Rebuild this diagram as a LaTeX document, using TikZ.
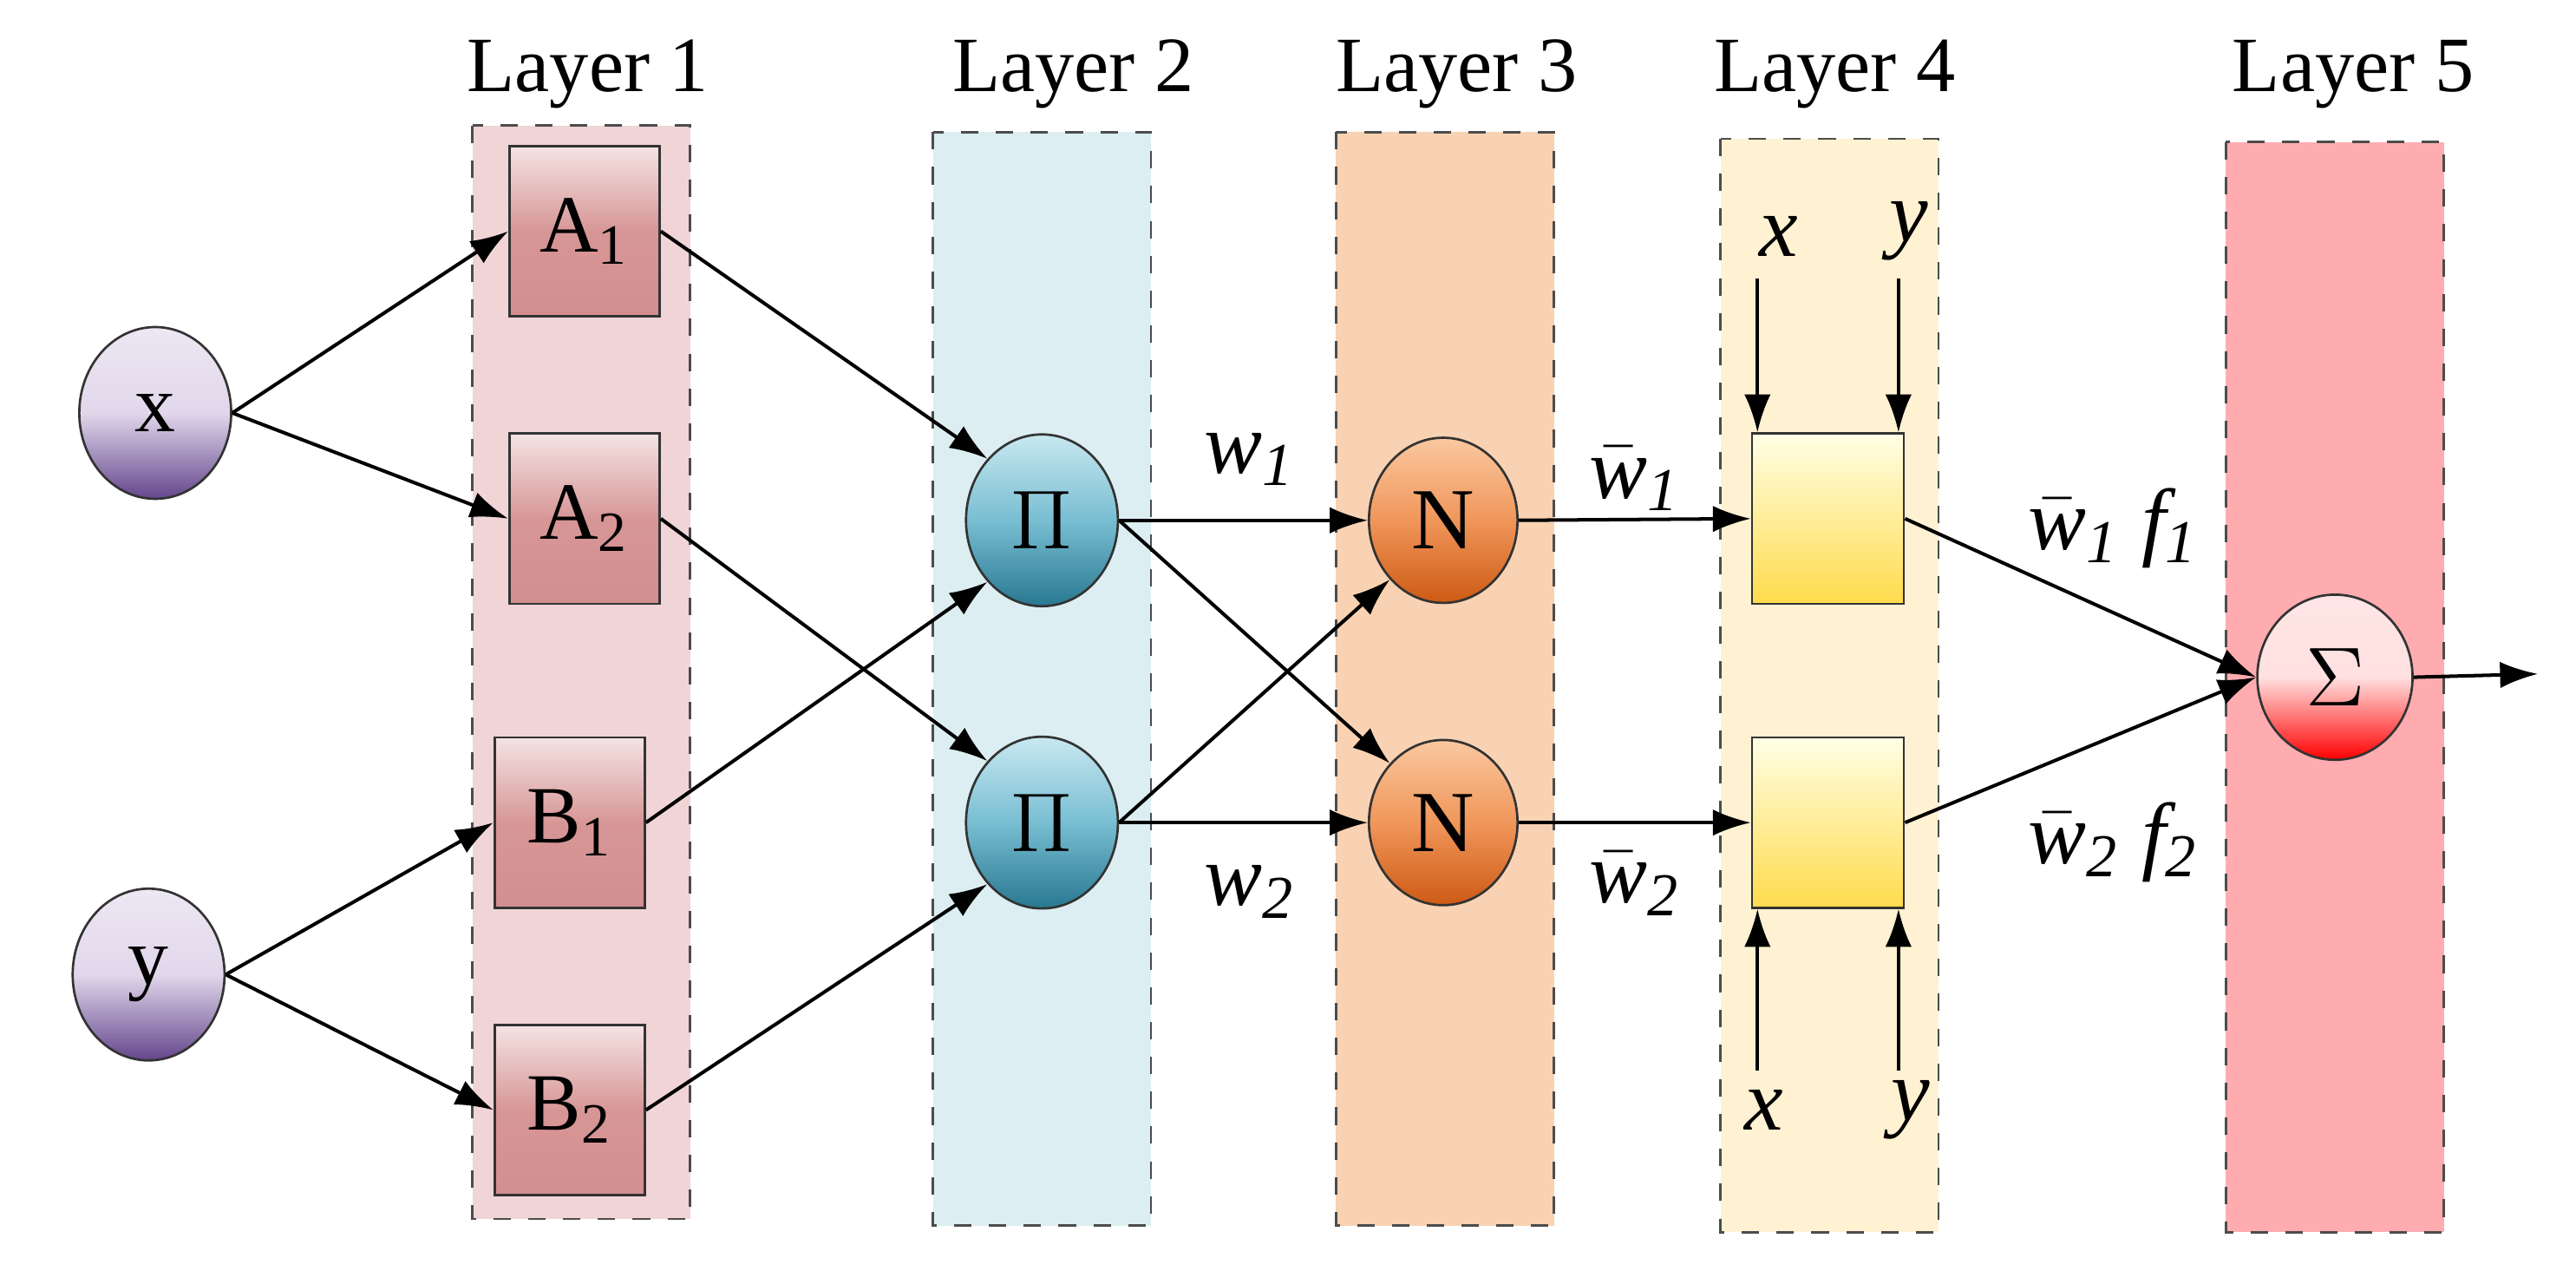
\documentclass[tikz,border=0pt]{standalone}
\usepackage{fontspec}
\setmainfont{Liberation Serif}
\usetikzlibrary{arrows.meta,shapes.geometric}
\definecolor{l1}{RGB}{240,212,214}
\definecolor{l2}{RGB}{220,238,242}
\definecolor{l3}{RGB}{248,210,178}
\definecolor{l4}{RGB}{255,242,210}
\definecolor{l5}{RGB}{255,172,176}
\definecolor{rose}{RGB}{200,115,115}
\definecolor{rosem}{RGB}{215,150,150}
\definecolor{tealb}{RGB}{40,120,145}
\definecolor{tealm}{RGB}{120,190,210}
\definecolor{tealt}{RGB}{200,232,240}
\definecolor{orb}{RGB}{205,90,20}
\definecolor{orm}{RGB}{240,150,90}
\definecolor{ort}{RGB}{250,200,160}
\definecolor{vb}{RGB}{100,70,140}
\definecolor{vm}{RGB}{225,215,235}
\begin{document}
\begin{tikzpicture}[x=0.1mm,y=-0.1mm,
 layer/.style={draw=black!70,dashed,line width=0.4pt},
 lab/.style={font=\fontsize{13.5}{16}\selectfont},
 sq/.style={draw=black!80,minimum width=9.1mm,minimum height=10.3mm,inner sep=0pt,font=\fontsize{14}{17}\selectfont,top color=white!80!rose,bottom color=rose!80,middle color=rosem},
 ysq/.style={draw=black!80,minimum width=9.2mm,minimum height=10.3mm,inner sep=0pt,top color=yellow!10,bottom color=yellow!60!orange!70},
 inp/.style={draw=black!80,ellipse,minimum width=9.2mm,minimum height=10.4mm,inner sep=0pt,font=\fontsize{14}{17}\selectfont,top color=vm!60,bottom color=vb,middle color=vm},
 pi/.style={draw=black!80,ellipse,minimum width=9.2mm,minimum height=10.4mm,inner sep=0pt,font=\fontsize{15}{18}\selectfont,top color=tealt,bottom color=tealb,middle color=tealm},
 nn/.style={draw=black!80,ellipse,minimum width=9mm,minimum height=10mm,inner sep=0pt,font=\fontsize{15}{18}\selectfont,top color=ort,bottom color=orb,middle color=orm},
 sg/.style={draw=black!80,ellipse,minimum width=9.4mm,minimum height=10mm,inner sep=0pt,font=\fontsize{15}{18}\selectfont,top color=red!10,bottom color=red,middle color=red!12},
 ar/.style={-{Latex[length=2.3mm,width=1.6mm]},line width=0.6pt},
 it/.style={font=\fontsize{15}{18}\selectfont\itshape}]
\useasboundingbox (0,0) rectangle (1560,769);
\fill[white] (0,0) rectangle (1560,769);
\draw[layer,fill=l1] (286,76) rectangle (418,738);
\draw[layer,fill=l2] (565,80) rectangle (697,742);
\draw[layer,fill=l3] (809,80) rectangle (941,742);
\draw[layer,fill=l4] (1042,84) rectangle (1174,746);
\draw[layer,fill=l5] (1348,86) rectangle (1480,746);
\node[lab] at (356,45) {Layer 1};
\node[lab] at (650,45) {Layer 2};
\node[lab] at (882,45) {Layer 3};
\node[lab] at (1111,45) {Layer 4};
\node[lab] at (1425,45) {Layer 5};
\node[inp] (x) at (94,250) {x};
\node[inp] (y) at (90,590) {y};
\node[sq] (A1) at (354,140) {A\textsubscript{1}};
\node[sq] (A2) at (354,314) {A\textsubscript{2}};
\node[sq] (B1) at (345,498) {B\textsubscript{1}};
\node[sq] (B2) at (345,672) {B\textsubscript{2}};
\node[pi] (P1) at (631,315) {$\Pi$};
\node[pi] (P2) at (631,498) {$\Pi$};
\node[nn] (N1) at (874,315) {N};
\node[nn] (N2) at (874,498) {N};
\node[ysq] (S1) at (1107,314) {};
\node[ysq] (S2) at (1107,498) {};
\node[sg] (Sg) at (1414,410) {$\Sigma$};
\coordinate (out) at (1537,408);
\draw[ar] (x.east) -- (A1.west);
\draw[ar] (x.east) -- (A2.west);
\draw[ar] (y.east) -- (B1.west);
\draw[ar] (y.east) -- (B2.west);
\draw[ar] (A1.east) -- (P1.north west);
\draw[ar] (B1.east) -- (P1.south west);
\draw[ar] (A2.east) -- (P2.north west);
\draw[ar] (B2.east) -- (P2.south west);
\draw[ar] (P1.east) -- (N1.west);
\draw[ar] (P1.east) -- (N2.north west);
\draw[ar] (P2.east) -- (N1.south west);
\draw[ar] (P2.east) -- (N2.west);
\draw[ar] (N1.east) -- (S1.west);
\draw[ar] (N2.east) -- (S2.west);
\draw[ar] (S1.east) -- (Sg.west);
\draw[ar] (S2.east) -- (Sg.west);
\draw[ar] (Sg.east) -- (out);
\coordinate (t1) at ([xshift=0.4mm,yshift=9.3mm]S1.north west);
\coordinate (t2) at ([xshift=-0.4mm,yshift=9.3mm]S1.north east);
\coordinate (b1) at ([xshift=0.4mm,yshift=-9.8mm]S2.south west);
\coordinate (b2) at ([xshift=-0.4mm,yshift=-9.8mm]S2.south east);
\draw[ar] (t1) -- ([xshift=0.4mm]S1.north west);
\draw[ar] (t2) -- ([xshift=-0.4mm]S1.north east);
\draw[ar] (b1) -- ([xshift=0.4mm]S2.south west);
\draw[ar] (b2) -- ([xshift=-0.4mm]S2.south east);
\node[it] (tx) at (1077,143) {x};
\node[it] (ty) at (1156,140) {y};
\node[it] (bx) at (1068,672) {x};
\node[it] (by) at (1157,672) {y};
\node[it] at (757,278) {w\textsubscript{1}};
\node[it] at (757,540) {w\textsubscript{2}};
\node[it] at (990,290) {$\bar{\textit{w}}$\textsubscript{1}};
\node[it] at (990,535) {$\bar{\textit{w}}$\textsubscript{2}};
\node[it] at (1280,320) {$\bar{\textit{w}}$\textsubscript{1} f\textsubscript{1}};
\node[it] at (1280,510) {$\bar{\textit{w}}$\textsubscript{2} f\textsubscript{2}};
\end{tikzpicture}
\end{document}
